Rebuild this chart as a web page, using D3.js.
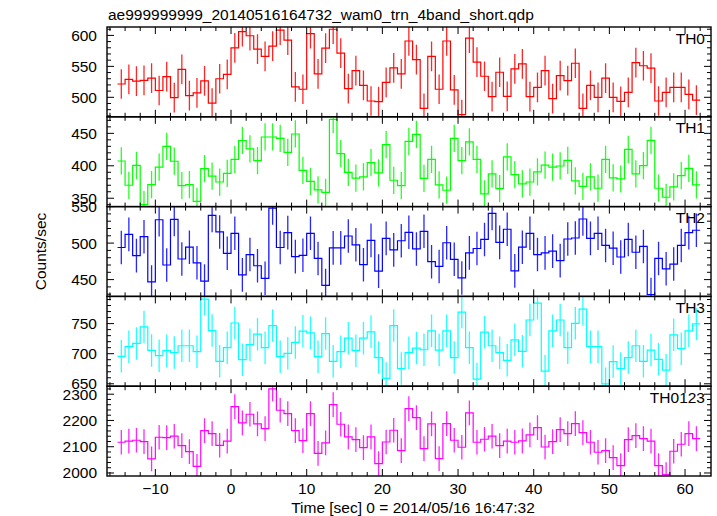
<!DOCTYPE html>
<html><head><meta charset="utf-8">
<script src="https://cdn.jsdelivr.net/npm/d3@7"></script>
<style>
body{margin:0;background:#fff;}
text{font-family:"Liberation Sans",Arial,Helvetica,sans-serif;fill:#000;}
</style></head>
<body><svg id="c" width="717" height="516"></svg>
<script>
const title = "ae999999999_20140516164732_wam0_trn_4band_short.qdp";
const xLabel = "Time [sec] 0 = 2014/05/16 16:47:32";
const yLabel = "Counts/sec";
const binStart = -14.5;           // centre of first 1-s bin
const binWidth = 1;
const xTicks = [-10, 0, 10, 20, 30, 40, 50, 60];

const panelNames = ["TH0", "TH1", "TH2", "TH3", "TH0123"];
const panelColors = ["#ff0000", "#00ff00", "#0000ff", "#00ffff", "#ff00ff"];
const panelDomains = [[468.5, 613.6], [337.1, 475.5], [427, 550], [646, 795.2], [1988.5, 2330.5]];
const panelTicks = [[500, 550, 600], [350, 400, 450], [450, 500, 550], [650, 700, 750], [2000, 2100, 2200, 2300]];
const panelMinor = [10, 10, 10, 10, 20];
const panelErr = [24, 21, 23, 27, 47];

const th0 = [521.5,529,526,527.5,531,511,533.5,499.5,545,502.6,
 507,526.4,490.7,530,537,580,606,599.5,578,566,
 582.7,608.7,592.4,516.7,513,603,537.8,579.4,610,571.3,
 514,543,519.4,494,493,524,547.5,537.8,591,561,
 482,566,513,591,512,472,595.7,557,534,501,
 540.5,501.5,546,554,501,516,543,497.8,535,527,
 555,482,519.4,500,531,500,493.4,508,556,551,
 547,494,508,516,516,504.8,495.6];
const th1 = [407.4,370,400.7,340,371,398,430,407,369.5,371,
 345,395.6,384,375,388.4,410,439,426,408,444.4,
 444.4,442.3,420.8,449,393,376,362.8,359,471.5,418.7,
 390,381,383,405,389,432.6,377.7,369.5,437.7,448.5,
 380.7,410,370.5,362.3,442.3,408,437,410,356.6,387.4,
 364.8,413.6,386.4,372,375,390.5,401,398,399.7,408.4,
 376.6,368.4,382.8,365.4,410,381.3,379.7,425.4,387.4,400.2,
 439.2,365.4,351.5,367.4,384.9,396,370.5];
const th2 = [494,512,482.9,508.8,446.8,532,470,532.4,478.2,494.4,
 473,448,538,515.3,486,513.4,456.5,484.3,469,451.8,
 548,494,514.4,481.5,483.3,513.4,479,442,493.5,493.5,
 509.7,497.7,470.4,503.7,461.6,506.5,490.7,503.2,514.8,492,
 516.2,474.5,468,500.5,477.8,452.3,486.6,492.6,505,540.7,
 501,519,462,494.4,513.4,484.3,486.6,489,476,505.6,
 507,533,506.5,513.4,496.8,493,481,505,487.5,495.4,
 429.6,479,464.8,471.3,496.8,514.4,517.6];
const th3 = [695.6,711.6,717,744.5,705.5,696.7,705,702,713.2,713.2,
 703.3,790.6,738.5,687.4,710,751,690,715,732.4,710,
 746.7,695,700.6,718.7,737.4,734.6,695,733.5,687.4,703.3,
 725.8,705,725.8,736.3,693.5,658.9,746.7,675.3,701.7,709.4,
 706.6,738,706,738,693.5,769.2,710,657.8,735.7,713.2,
 701.7,689,723,703.9,756,784,671,738,756,710,
 750.5,774,711.6,711.6,650,686.9,675.3,693.5,713.2,687.4,
 706,690.7,672.6,731.3,708.3,738,749.5];
const th0123 = [2117,2121,2124.6,2119.5,2053.4,2136,2134.8,2140,2104,2081.4,
 2025.5,2161.5,2150,2105.5,2121,2253,2190.7,2223.7,2187,2169,
 2320,2239,2226.3,2161.5,2123.3,2226.3,2075,2114.4,2260.6,2185.6,
 2137.3,2127,2096.6,2137.3,2035.6,2118,2162.7,2085,2245.3,2211,
 2093,2187,2054.7,2188,2124.6,2098,2228.8,2117,2128.4,2140,
 2104,2121,2117,2122,2145,2173,2099,2119.5,2165,2150,
 2188,2154,2117,2079,2085,2058.5,2028,2127,2142.4,2131,
 2121,2028,1994,2082.7,2109.4,2150,2131];
const panelData = [th0, th1, th2, th3, th0123];

const L = 107, R = 711, T = 27, B = 476;
const ph = (B - T) / panelNames.length;
const svg = d3.select("#c");
const x = d3.scaleLinear().domain([-16.39, 63.43]).range([L, R]);
const xMinor = d3.range(-16, 64, 2);

svg.append("text").attr("x", 108).attr("y", 20).attr("font-size", 15.5).text(title);

panelNames.forEach((name, p) => {
  const top = T + p * ph, bot = top + ph;
  const y = d3.scaleLinear().domain(panelDomains[p]).range([bot, top]);
  const g = svg.append("g");
  const cid = "clip" + p;
  svg.append("clipPath").attr("id", cid).append("rect")
    .attr("x", L).attr("y", top).attr("width", R - L).attr("height", ph);
  const vals = panelData[p];
  const pts = [];
  vals.forEach((v, i) => {
    const c = binStart + i * binWidth;
    pts.push([c - binWidth / 2, v], [c + binWidth / 2, v]);
  });
  const pg = g.append("g").attr("clip-path", `url(#${cid})`);
  pg.selectAll("line.err").data(vals).join("line").attr("class", "err")
    .attr("x1", (v, i) => x(binStart + i * binWidth)).attr("x2", (v, i) => x(binStart + i * binWidth))
    .attr("y1", v => y(v - panelErr[p])).attr("y2", v => y(v + panelErr[p]))
    .attr("stroke", panelColors[p]).attr("stroke-width", 1.3).attr("stroke-opacity", 0.85);
  pg.append("path").attr("d", d3.line().x(d => x(d[0])).y(d => y(d[1]))(pts))
    .attr("fill", "none").attr("stroke", panelColors[p]).attr("stroke-width", 1.2);

  // ticks
  const tk = g.append("g").attr("stroke", "#000").attr("stroke-width", 1);
  xMinor.forEach(t => {
    const major = t % 10 === 0, len = major ? 7 : 4;
    tk.append("line").attr("x1", x(t)).attr("x2", x(t)).attr("y1", bot).attr("y2", bot - len);
    tk.append("line").attr("x1", x(t)).attr("x2", x(t)).attr("y1", top).attr("y2", top + len);
  });
  const d = panelDomains[p], step = panelMinor[p];
  for (let v = Math.ceil(d[0] / step) * step; v <= d[1]; v += step) {
    const major = panelTicks[p].includes(v), len = major ? 7 : 4;
    tk.append("line").attr("x1", L).attr("x2", L + len).attr("y1", y(v)).attr("y2", y(v));
    tk.append("line").attr("x1", R).attr("x2", R - len).attr("y1", y(v)).attr("y2", y(v));
  }
  panelTicks[p].forEach(v => {
    g.append("text").attr("x", 97).attr("y", y(v) + 5.5).attr("text-anchor", "end")
      .attr("font-size", 15.5).text(v);
  });
  g.append("rect").attr("x", L).attr("y", top).attr("width", R - L).attr("height", ph)
    .attr("fill", "none").attr("stroke", "#000").attr("stroke-width", 1.4);
  g.append("text").attr("x", 705).attr("y", top + 16.5).attr("text-anchor", "end")
    .attr("font-size", 15.5).text(name);
});

xTicks.forEach(t => {
  svg.append("text").attr("x", x(t)).attr("y", 494).attr("text-anchor", "middle")
    .attr("font-size", 15.5).text(t < 0 ? "\u2212" + Math.abs(t) : t);
});
svg.append("text").attr("x", (L + R) / 2 + 4).attr("y", 513).attr("text-anchor", "middle")
  .attr("font-size", 15.5).text(xLabel);
svg.append("text").attr("transform", `translate(46,${(T + B) / 2}) rotate(-90)`)
  .attr("text-anchor", "middle").attr("font-size", 15.5).text(yLabel);
</script></body></html>
